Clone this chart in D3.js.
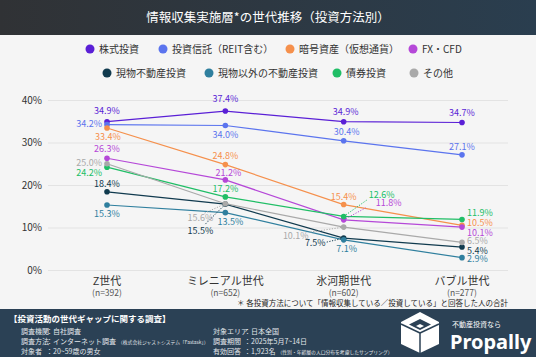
<!DOCTYPE html>
<html><head><meta charset="utf-8">
<script src="https://cdn.jsdelivr.net/npm/d3@7"></script>
<style>
html,body{margin:0;padding:0;background:#f5f5f5;}
svg{display:block;font-family:"Noto Sans CJK JP","Noto Sans",sans-serif;}
</style></head>
<body><svg id="c" width="536" height="357"></svg>
<script>
// ---- data ----
const categories = ["Z世代","ミレニアル世代","氷河期世代","バブル世代"];
const sampleSizes = ["(n=392)","(n=652)","(n=602)","(n=277)"];
const seriesNames = ["株式投資","投資信託（REIT含む）","暗号資産（仮想通貨）","FX・CFD","現物不動産投資","現物以外の不動産投資","債券投資","その他"];
const stocks      = [34.9, 37.4, 34.9, 34.7];
const trusts      = [34.2, 34.0, 30.4, 27.1];
const crypto      = [33.4, 24.8, 15.4, 10.5];
const fxcfd       = [26.3, 21.2, 11.8, 10.1];
const realEstate  = [18.4, 15.5, 7.5, 5.4];
const otherRE     = [15.3, 13.5, 7.1, 2.9];
const bonds       = [24.2, 17.2, 12.6, 11.9];
const others      = [25.0, 15.6, 10.1, 6.5];
const yTicks = [0, 10, 20, 30, 40];

// ---- styles ----
const colors = ["#5a1fd6","#5b74ee","#f5904c","#b548d8","#103a4e","#2f7f9e","#20be66","#a9a9a9"];
const seriesValues = [stocks, trusts, crypto, fxcfd, realEstate, otherRE, bonds, others];
// label placement per series/point: [dx, dy, anchor, leaderX, leaderY] (leader optional, relative to point)
const labelPlace = [
  [[0,-11,"middle"],[0,-12,"middle"],[2,-10,"middle"],[0,-10,"middle"]],
  [[-5,-1,"end"],[0,9,"middle"],[3,-9,"middle"],[0,-8,"middle"]],
  [[1,9,"middle"],[0,-9,"middle"],[0,-8,"middle"],[5,-2.5,"start"]],
  [[0,-9,"middle"],[3,-7,"middle"],[32,-17,"start",22,-12],[5,5.5,"start"]],
  [[0,-8,"middle"],[-25,27,"middle",-20,20],[-18,5,"end",-17,4],[5,3.5,"start"]],
  [[0,9,"middle"],[5,9,"middle"],[3,9,"middle"],[5,1.5,"start"]],
  [[-5,6,"end"],[0,-8,"middle"],[25,-22,"start",24,-17],[5,-6.5,"start"]],
  [[-5,-1,"end"],[-25,14,"middle",-22,10],[-35,9,"end",-33,5],[5,-1.5,"start"]]
];

const svg = d3.select("#c");
const W = 536, H = 357;

svg.append("rect").attr("width",W).attr("height",H).attr("fill","#f5f5f5");

// header
const defs = svg.append("defs");
const hg = defs.append("linearGradient").attr("id","hg").attr("x1","0").attr("x2","1");
hg.append("stop").attr("offset","0").attr("stop-color","#303235");
hg.append("stop").attr("offset","1").attr("stop-color","#2a3e4f");
svg.append("rect").attr("width",W).attr("height",35).attr("fill","url(#hg)");
svg.append("text").attr("x",W/2).attr("y",22).attr("text-anchor","middle")
  .attr("fill","#fff").attr("font-size",12.5).text("情報収集実施層*の世代推移（投資方法別）");

// legend
const legendRows = [
  [{i:0,x:90},{i:1,x:163},{i:2,x:290},{i:3,x:413}],
  [{i:4,x:107},{i:5,x:209},{i:6,x:337},{i:7,x:414}]
];
const legendY = [49, 73];
legendRows.forEach((row,r)=>{
  const g = svg.append("g");
  g.selectAll("circle").data(row).enter().append("circle")
    .attr("cx",d=>d.x).attr("cy",legendY[r]).attr("r",4.5).attr("fill",d=>colors[d.i]);
  g.selectAll("text").data(row).enter().append("text")
    .attr("x",d=>d.x+9).attr("y",legendY[r]+3.5).attr("font-size",10).attr("fill","#333")
    .text(d=>seriesNames[d.i]);
});

// scales
const x = d3.scalePoint().domain(categories).range([107,462]);
const y = d3.scaleLinear().domain([0,40]).range([270,100]);

// y axis with gridlines
const ax = svg.append("g").attr("transform","translate(48,0)")
  .call(d3.axisLeft(y).tickValues(yTicks).tickFormat(d=>d+"%").tickSize(-460).tickPadding(6));
ax.select(".domain").remove();
ax.selectAll(".tick line").attr("stroke","#e3e3e3");
ax.selectAll(".tick text").attr("font-size",10).attr("fill","#333")
  .attr("font-family","'Noto Sans CJK JP','Noto Sans',sans-serif");

// x labels
const xl = svg.append("g");
xl.selectAll("text.cat").data(categories).enter().append("text").attr("class","cat")
  .attr("x",d=>x(d)).attr("y",285).attr("text-anchor","middle").attr("font-size",11).attr("fill","#333").text(d=>d);
xl.selectAll("text.n").data(sampleSizes).enter().append("text").attr("class","n")
  .attr("x",(d,i)=>x(categories[i])).attr("y",296).attr("text-anchor","middle").attr("font-size",8.5).attr("fill","#555").text(d=>d);

// lines
const line = d3.line().x((d,i)=>x(categories[i])).y(d=>y(d));
const plot = svg.append("g");
seriesValues.forEach((vals,s)=>{
  plot.append("path").datum(vals).attr("d",line).attr("fill","none")
    .attr("stroke",colors[s]).attr("stroke-width",1.2);
});
// leaders
seriesValues.forEach((vals,s)=>{
  vals.forEach((v,i)=>{
    const p = labelPlace[s][i];
    if (p.length > 3) {
      plot.append("line").attr("x1",x(categories[i])).attr("y1",y(v))
        .attr("x2",x(categories[i])+p[3]).attr("y2",y(v)+p[4])
        .attr("stroke",colors[s]).attr("stroke-width",1).attr("stroke-dasharray","1.2,1.5");
    }
  });
});
// points
seriesValues.forEach((vals,s)=>{
  plot.selectAll(null).data(vals).enter().append("circle")
    .attr("cx",(d,i)=>x(categories[i])).attr("cy",d=>y(d)).attr("r",2.8).attr("fill",colors[s]);
});
// labels
seriesValues.forEach((vals,s)=>{
  plot.selectAll(null).data(vals).enter().append("text")
    .attr("x",(d,i)=>x(categories[i])+labelPlace[s][i][0])
    .attr("y",(d,i)=>y(d)+labelPlace[s][i][1]+3.2)
    .attr("text-anchor",(d,i)=>labelPlace[s][i][2])
    .attr("font-size",9).attr("fill",colors[s]).text(d=>d.toFixed(1)+"%");
});

// footnote
svg.append("text").attr("x",508).attr("y",306).attr("text-anchor","end").attr("font-size",7.5).attr("fill","#222")
  .text("＊ 各投資方法について「情報収集している／投資している」と回答した人の合計");

// footer
svg.append("rect").attr("x",0).attr("y",309).attr("width",W).attr("height",H-309).attr("fill","#2b4155");
const ft = svg.append("g").attr("fill","#e2e6ea");
ft.append("text").attr("x",9).attr("y",322).attr("font-size",8.5).attr("font-weight","bold").attr("fill","#fff").text("【投資活動の世代ギャップに関する調査】");
const leftRows = [["調査機関","：自社調査",""],["調査方法","：インターネット調査","（株式会社ジャストシステム「Fastask」）"],["対象者","：20~59歳の男女",""]];
const rightRows = [["対象エリア","：日本全国",""],["調査期間","：2025年5月7~14日",""],["有効回答","：1,923名","（性別・年齢層の人口分布を考慮したサンプリング）"]];
function footerRows(rows, x0, x1){
  rows.forEach((r,i)=>{
    const yy = 334 + i*10;
    ft.append("text").attr("x",x0).attr("y",yy).attr("font-size",7).text(r[0]);
    const t = ft.append("text").attr("x",x1).attr("y",yy).attr("font-size",7);
    t.append("tspan").text(r[1]);
    if (r[2]) t.append("tspan").attr("font-size",4.8).attr("dx",2).text(r[2]);
  });
}
footerRows(leftRows, 21, 46);
footerRows(rightRows, 213, 244);
// logo
const lg = svg.append("g").attr("transform","translate(420,332)");
lg.append("polygon").attr("points","0,-20 19,-10 19,12 0,21 -19,12 -19,-10").attr("fill","#fff");
lg.append("polygon").attr("points","0,-13 11,-7.5 0,-2 -11,-7.5").attr("fill","#2b4155");
lg.append("polygon").attr("points","0,-8 4,-6 0,-4 -4,-6").attr("fill","#fff");
lg.append("line").attr("x1",0).attr("y1",1).attr("x2",0).attr("y2",21).attr("stroke","#2b4155").attr("stroke-width",1.5);
lg.append("line").attr("x1",-19).attr("y1",-8).attr("x2",0).attr("y2",1).attr("stroke","#2b4155").attr("stroke-width",1.5);
lg.append("line").attr("x1",19).attr("y1",-8).attr("x2",0).attr("y2",1).attr("stroke","#2b4155").attr("stroke-width",1.5);
svg.append("text").attr("x",452).attr("y",327).attr("font-size",7).attr("fill","#fff").text("不動産投資なら");
svg.append("text").attr("x",450).attr("y",349).attr("font-size",20).attr("font-weight","bold").attr("fill","#fff")
  .attr("font-family","'Noto Sans','Open Sans',sans-serif").text("Propally");
</script></body></html>
